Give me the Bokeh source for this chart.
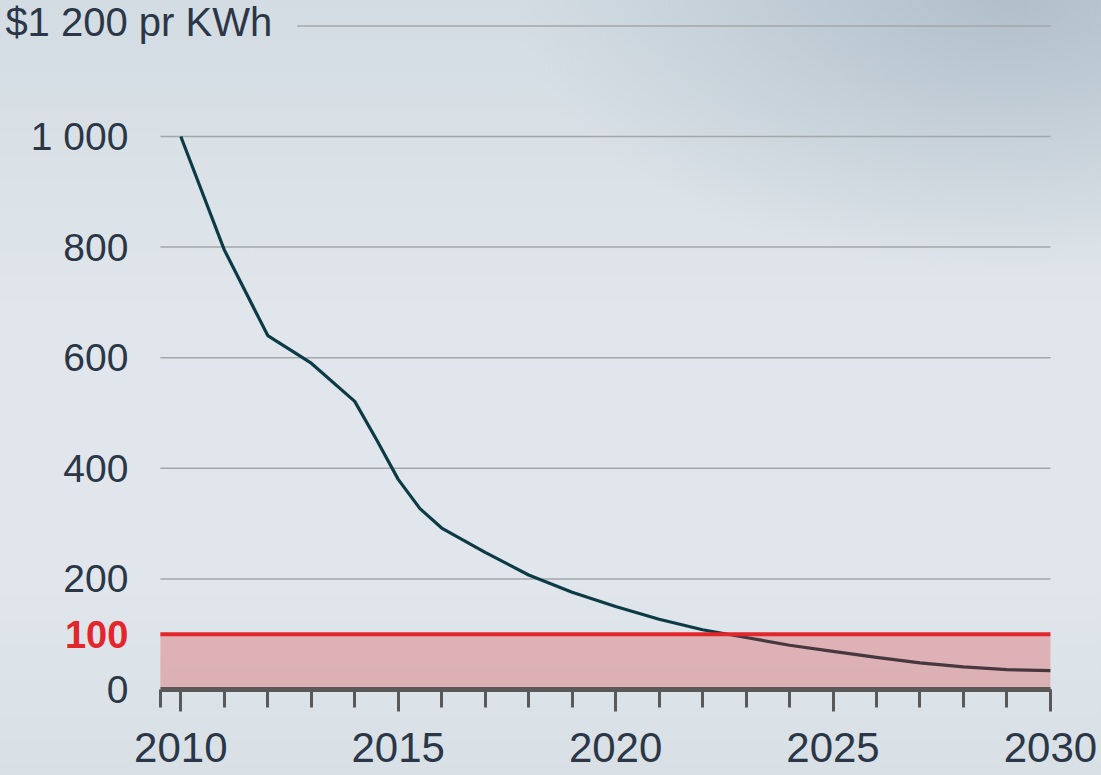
from bokeh.plotting import figure
from bokeh.models import FixedTicker, Label, Range1d, LinearAxis
from bokeh.embed import file_html
from bokeh.resources import INLINE

# ---- data ----
years = [2010, 2011, 2012, 2013, 2014, 2014.5, 2015, 2015.5, 2016, 2017, 2018,
         2019, 2020, 2021, 2022, 2023, 2024, 2025, 2026, 2027, 2028, 2029, 2030]
cost = [1000, 795, 640, 590, 521, 452, 380, 327, 292, 248, 207,
        176, 150, 127, 108, 94, 80, 69, 58, 48, 41, 36, 34]
target = 100
target_label = "100"
y_ticks = [0, 200, 400, 600, 800, 1000]
y_tick_labels = ["0", "200", "400", "600", "800", "1 000"]
top_value = 1200
top_label = "$1 200 pr KWh"
x_major = [2010, 2015, 2020, 2025, 2030]
x_minor = list(range(2010, 2031))

# ---- layout constants ----
X0, X1 = 2009.53, 2030          # extent of the drawn chart area
VX0, VX1 = 2005.853, 2031.175   # visible range (whole canvas)
VY0, VY1 = -155.5, 1245.9
top_rule_start = 2012.68
FONT = "Liberation Sans"
TXT = "#2b3747"
GRID = "#a3a7aa"
RED = "#e3262b"
AXIS = "#595959"

p = figure(width=1101, height=775,
           x_range=Range1d(VX0, VX1), y_range=Range1d(VY0, VY1),
           x_axis_location=None, y_axis_location=None,
           output_backend="svg", toolbar_location=None,
           min_border=0)

p.border_fill_color = None
p.background_fill_color = None
p.outline_line_color = None
p.grid.visible = False
p.styles = {"background": "radial-gradient(ellipse 45% 35% at 92% 0%, rgba(150,168,182,0.55) 0%, rgba(150,168,182,0) 100%), "
                          "linear-gradient(180deg, #d3dce3 0%, #e0e6eb 40%, #e0e6eb 75%, #d8e0e6 100%)"}

# horizontal rules
hy = [t for t in y_ticks if t > 0]
p.segment(x0=[X0] * len(hy), x1=[X1] * len(hy), y0=hy, y1=hy,
          line_color=GRID, line_width=1.5)
p.segment(x0=[top_rule_start], x1=[X1], y0=[top_value], y1=[top_value],
          line_color=GRID, line_width=1.5)

# cost curve
p.line(years, cost, line_color="#0d3b45", line_width=3.2, line_join="round")

# target band and line
p.varea(x=[X0, X1], y1=[0, 0], y2=[target, target], fill_color="#e0302f", fill_alpha=0.28)
p.segment(x0=[X0], x1=[X1], y0=[target], y1=[target], line_color=RED, line_width=4)

# y axis: labels only
ya = LinearAxis(fixed_location=X0, bounds=(0, 1000))
ya.ticker = FixedTicker(ticks=y_ticks, minor_ticks=[])
ya.major_label_overrides = {t: l for t, l in zip(y_ticks, y_tick_labels)}
ya.axis_line_color = None
ya.major_tick_line_color = None
ya.minor_tick_line_color = None
ya.major_tick_out = 0
ya.major_tick_in = 0
ya.major_label_standoff = 32
ya.major_label_text_font = FONT
ya.major_label_text_font_size = "39px"
ya.major_label_text_color = TXT
p.add_layout(ya, "left")

# x axis
xa = LinearAxis(fixed_location=0, bounds=(X0, X1))
xa.ticker = FixedTicker(ticks=x_major, minor_ticks=x_minor + [X0])
xa.axis_line_color = AXIS
xa.axis_line_width = 5
xa.major_tick_line_color = AXIS
xa.major_tick_line_width = 3
xa.major_tick_out = 22
xa.major_tick_in = 0
xa.minor_tick_line_color = AXIS
xa.minor_tick_line_width = 3
xa.minor_tick_out = 18
xa.minor_tick_in = 0
xa.major_label_standoff = 21
xa.major_label_text_font = FONT
xa.major_label_text_font_size = "42px"
xa.major_label_text_color = TXT
p.add_layout(xa, "below")

p.add_layout(Label(x=X0, y=target, x_offset=-32, text=target_label, text_align="right",
                   text_baseline="middle", text_font=FONT, text_font_size="38px",
                   text_font_style="bold", text_color=RED))
p.add_layout(Label(x=X0, y=top_value, x_offset=-155, y_offset=4, text=top_label,
                   text_align="left", text_baseline="middle", text_font=FONT,
                   text_font_size="40px", text_color=TXT))

open("out.html", "w").write(file_html(p, INLINE))
